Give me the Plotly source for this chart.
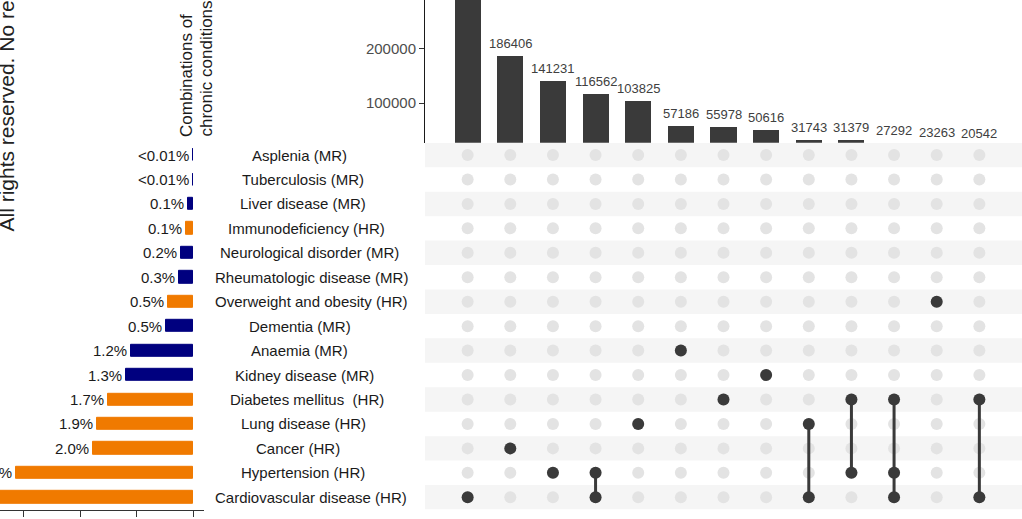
import plotly.graph_objects as go

# ---------------- data ----------------
conditions = [
    "Asplenia (MR)", "Tuberculosis (MR)", "Liver disease (MR)", "Immunodeficiency (HR)",
    "Neurological disorder (MR)", "Rheumatologic disease (MR)", "Overweight and obesity (HR)",
    "Dementia (MR)", "Anaemia (MR)", "Kidney disease (MR)", "Diabetes mellitus\u00a0 (HR)",
    "Lung disease (HR)", "Cancer (HR)", "Hypertension (HR)", "Cardiovascular disease (HR)",
]
risk_group = ["MR", "MR", "MR", "HR", "MR", "MR", "HR", "MR", "MR", "MR", "HR", "HR", "HR", "HR", "HR"]
condition_counts = [800, 850, 9700, 12500, 20400, 25500, 44000, 48000, 109000, 118600,
                    149700, 169200, 177500, 314000, 506000]
condition_share_labels = ["<0.01%", "<0.01%", "0.1%", "0.1%", "0.2%", "0.3%", "0.5%", "0.5%",
                          "1.2%", "1.3%", "1.7%", "1.9%", "2.0%", "3.5%", "5.7%"]

combination_sizes = [310000, 186406, 141231, 116562, 103825, 57186, 55978, 50616,
                     31743, 31379, 27292, 23263, 20542]
combination_members = [
    ["Cardiovascular disease (HR)"],
    ["Cancer (HR)"],
    ["Hypertension (HR)"],
    ["Hypertension (HR)", "Cardiovascular disease (HR)"],
    ["Lung disease (HR)"],
    ["Anaemia (MR)"],
    ["Diabetes mellitus\u00a0 (HR)"],
    ["Kidney disease (MR)"],
    ["Lung disease (HR)", "Cardiovascular disease (HR)"],
    ["Diabetes mellitus\u00a0 (HR)", "Hypertension (HR)"],
    ["Diabetes mellitus\u00a0 (HR)", "Hypertension (HR)", "Cardiovascular disease (HR)"],
    ["Overweight and obesity (HR)"],
    ["Diabetes mellitus\u00a0 (HR)", "Cardiovascular disease (HR)"],
]
top_ticks = [100000, 200000]
left_ticks = [0, 100000, 200000, 300000]

# ---------------- style ----------------
W, H = 1022, 519
FONT = "Liberation Sans, Arial, Helvetica, sans-serif"
HR_COL = "#F07A00"
MR_COL = "#00007F"
DARK = "#3a3a3a"
LIGHT_DOT = "#e3e3e3"
STRIPE = "#f5f5f5"

# approximate Helvetica/Arial advance widths (1/1000 em) for label placement
CHAR_W = {" ": 278, "\u00a0": 278, "(": 333, ")": 333, "A": 667, "C": 722, "D": 722, "H": 722,
          "I": 278, "K": 667, "L": 556, "M": 833, "N": 722, "O": 778, "R": 722, "T": 611,
          "a": 556, "b": 556, "c": 500, "d": 556, "e": 556, "f": 278, "g": 556, "h": 556,
          "i": 222, "k": 500, "l": 222, "m": 833, "n": 556, "o": 556, "p": 556, "r": 333,
          "s": 500, "t": 278, "u": 556, "v": 500, "w": 722, "y": 500}


def text_width(s, size):
    return sum(CHAR_W.get(ch, 556) for ch in s) * size / 1000.0


row_pos = list(range(1, len(conditions) + 1))
row_of = {c: i + 1 for i, c in enumerate(conditions)}
col_pos = list(range(1, len(combination_sizes) + 1))

mat_top_px, mat_bot_px = 142.8, 509.5
mat_dom = [(H - mat_bot_px) / H, (H - mat_top_px) / H]
mat_x_dom = [425 / W, 1.0]

top_range = [26900, 290200]
val_per_px = (top_range[1] - top_range[0]) / mat_top_px
label_dom_px = 175  # label axis reaches lower so small bars keep their labels
label_range = [top_range[1] - label_dom_px * val_per_px, top_range[1]]

fig = go.Figure()

# left bars (set sizes)
bar_cols = [HR_COL if g == "HR" else MR_COL for g in risk_group]
fig.add_trace(go.Bar(
    x=condition_counts, y=row_pos, orientation="h", width=0.5,
    marker=dict(color=bar_cols, line=dict(color=bar_cols, width=1)),
    xaxis="x", yaxis="y", hoverinfo="skip", showlegend=False,
))

# matrix background dots
bg_x, bg_y = [], []
for c in col_pos:
    for r in row_pos:
        bg_x.append(c)
        bg_y.append(r)
fig.add_trace(go.Scatter(
    x=bg_x, y=bg_y, mode="markers", marker=dict(size=12, color=LIGHT_DOT),
    xaxis="x2", yaxis="y2", hoverinfo="skip", showlegend=False,
))
for c, members in zip(col_pos, combination_members):
    rows = [row_of[m] for m in members]
    if len(rows) > 1:
        fig.add_trace(go.Scatter(
            x=[c, c], y=[min(rows), max(rows)], mode="lines",
            line=dict(color=DARK, width=3), xaxis="x2", yaxis="y2",
            hoverinfo="skip", showlegend=False,
        ))
act_x, act_y = [], []
for c, members in zip(col_pos, combination_members):
    for m in members:
        act_x.append(c)
        act_y.append(row_of[m])
fig.add_trace(go.Scatter(
    x=act_x, y=act_y, mode="markers", marker=dict(size=12, color=DARK),
    xaxis="x2", yaxis="y2", hoverinfo="skip", showlegend=False,
))

# top bars (intersection sizes)
fig.add_trace(go.Bar(
    x=col_pos, y=combination_sizes, width=0.61, marker=dict(color=DARK, line=dict(width=0)),
    xaxis="x2", yaxis="y3", hoverinfo="skip", showlegend=False,
))

# stripes
shapes = []
for r in row_pos:
    if r % 2 == 1:
        shapes.append(dict(type="rect", xref="x2 domain", x0=0, x1=1, yref="y2",
                           y0=r - 0.5, y1=r + 0.5, fillcolor=STRIPE, line=dict(width=0),
                           layer="below"))

annotations = []
# percentage labels left of the set-size bars
for v, lab, r in zip(condition_counts, condition_share_labels, row_pos):
    annotations.append(dict(text=lab, xref="x", x=v, xanchor="right", xshift=-2,
                            yref="y", y=r, yanchor="middle", showarrow=False,
                            font=dict(size=15, color="#1a1a1a", family=FONT)))
# intersection size labels
for c, v in zip(col_pos, combination_sizes):
    annotations.append(dict(text=str(v), xref="x2", x=c, xanchor="center",
                            yref="y4", y=v, yanchor="bottom", yshift=3, showarrow=False,
                            font=dict(size=13, color="#404040", family=FONT)))
# condition names
for c, r in zip(conditions, row_pos):
    w = text_width(c, 15)
    cx = 288 + 0.121 * w
    annotations.append(dict(text=c, xref="paper", x=cx / W, xanchor="center",
                            yref="y2", y=r, yanchor="middle", showarrow=False,
                            font=dict(size=15, color="#1a1a1a", family=FONT)))
# y-axis title of top bars (two lines)
for txt, xp in [("Combinations of", 186.5), ("chronic conditions", 205.5)]:
    annotations.append(dict(text=txt, textangle=-90, xref="paper", x=xp / W, xanchor="center",
                            yref="paper", y=(H - 139) / H, yanchor="bottom", showarrow=False,
                            font=dict(size=17, color="#1a1a1a", family=FONT)))
# watermark
annotations.append(dict(text="All rights reserved. No reuse allowed without permission.",
                        textangle=-90, xref="paper", x=5.5 / W, xanchor="center",
                        yref="paper", y=(H - 234) / H, yanchor="bottom", showarrow=False,
                        font=dict(size=21, color="#222222", family=FONT)))

px_per_100k = 56.5
left_right_px = 204
left_zero_px = 193
x_left_val = left_zero_px / px_per_100k * 100000
x_right_val = -(left_right_px - left_zero_px) / px_per_100k * 100000

fig.update_layout(
    width=W, height=H, margin=dict(l=0, r=0, t=0, b=0),
    paper_bgcolor="white", plot_bgcolor="rgba(0,0,0,0)",
    font=dict(family=FONT),
    bargap=0, showlegend=False,
    shapes=shapes, annotations=annotations,
    xaxis=dict(domain=[0, left_right_px / W], range=[x_left_val, x_right_val],
               anchor="y", showline=True, linecolor="#333333", linewidth=1,
               ticks="outside", ticklen=6, tickcolor="#333333", tickwidth=1,
               tickvals=left_ticks, showticklabels=False, showgrid=False, zeroline=False),
    yaxis=dict(domain=mat_dom, range=[15.5, 0.5], anchor="x", visible=False),
    xaxis2=dict(domain=mat_x_dom, range=[0, 14], anchor="y2", visible=False),
    yaxis2=dict(domain=mat_dom, range=[15.5, 0.5], anchor="x2", visible=False),
    yaxis3=dict(domain=[mat_dom[1], 1.0], range=top_range, anchor="x2",
                showline=True, linecolor="#1a1a1a", linewidth=1,
                ticks="outside", ticklen=5, tickcolor="#333333", tickwidth=1,
                tickvals=top_ticks, ticktext=[str(v) for v in top_ticks],
                tickfont=dict(size=15, color="#4d4d4d", family=FONT),
                showgrid=False, zeroline=False),
    yaxis4=dict(domain=[(H - label_dom_px) / H, 1.0], range=label_range, anchor="x2",
                visible=False),
)

fig.write_html("out.html", config={"displayModeBar": False},
               post_script="document.body.style.margin='0';")
